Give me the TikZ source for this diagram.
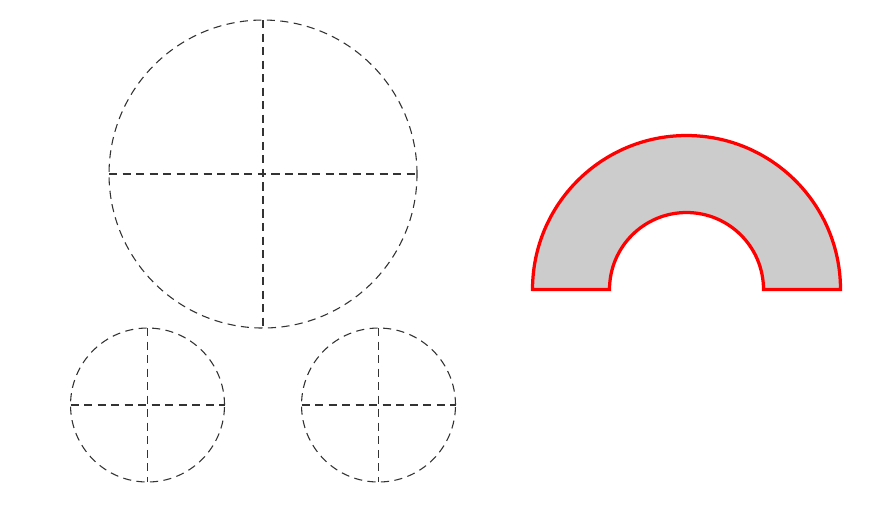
\documentclass[tikz,border=0pt]{standalone}
\begin{document}
\begin{tikzpicture}[x=1cm,y=1cm,
  guide/.style={draw=black!80, line width=0.4pt, dash pattern=on 3pt off 2pt},
  ring/.style={draw=red, line width=1.2pt, fill=black!20}]
\useasboundingbox (-3.416,-4.286) rectangle (8.169,2.260);
% big circle
\coordinate (B) at (0,0);
\draw[guide] (B) circle (2);
\draw[guide] ([xshift=-2cm]B) -- ([xshift=2cm]B);
\draw[guide] ([yshift=2cm]B) -- ([yshift=-2cm]B);
% small left
\coordinate (L) at (-1.5,-3);
\draw[guide] (L) circle (1);
\draw[guide] ([xshift=-1cm]L) -- ([xshift=1cm]L);
\draw[guide] ([yshift=1cm]L) -- ([yshift=-1cm]L);
% small right
\coordinate (R) at (1.5,-3);
\draw[guide] (R) circle (1);
\draw[guide] ([xshift=-1cm]R) -- ([xshift=1cm]R);
\draw[guide] ([yshift=1cm]R) -- ([yshift=-1cm]R);
% half annulus
\coordinate (A) at (5.5,-1.5);
\draw[ring] ([xshift=-2cm]A) arc[start angle=180,end angle=0,radius=2]
  -- ([xshift=1cm]A) arc[start angle=0,end angle=180,radius=1] -- cycle;
\end{tikzpicture}
\end{document}
